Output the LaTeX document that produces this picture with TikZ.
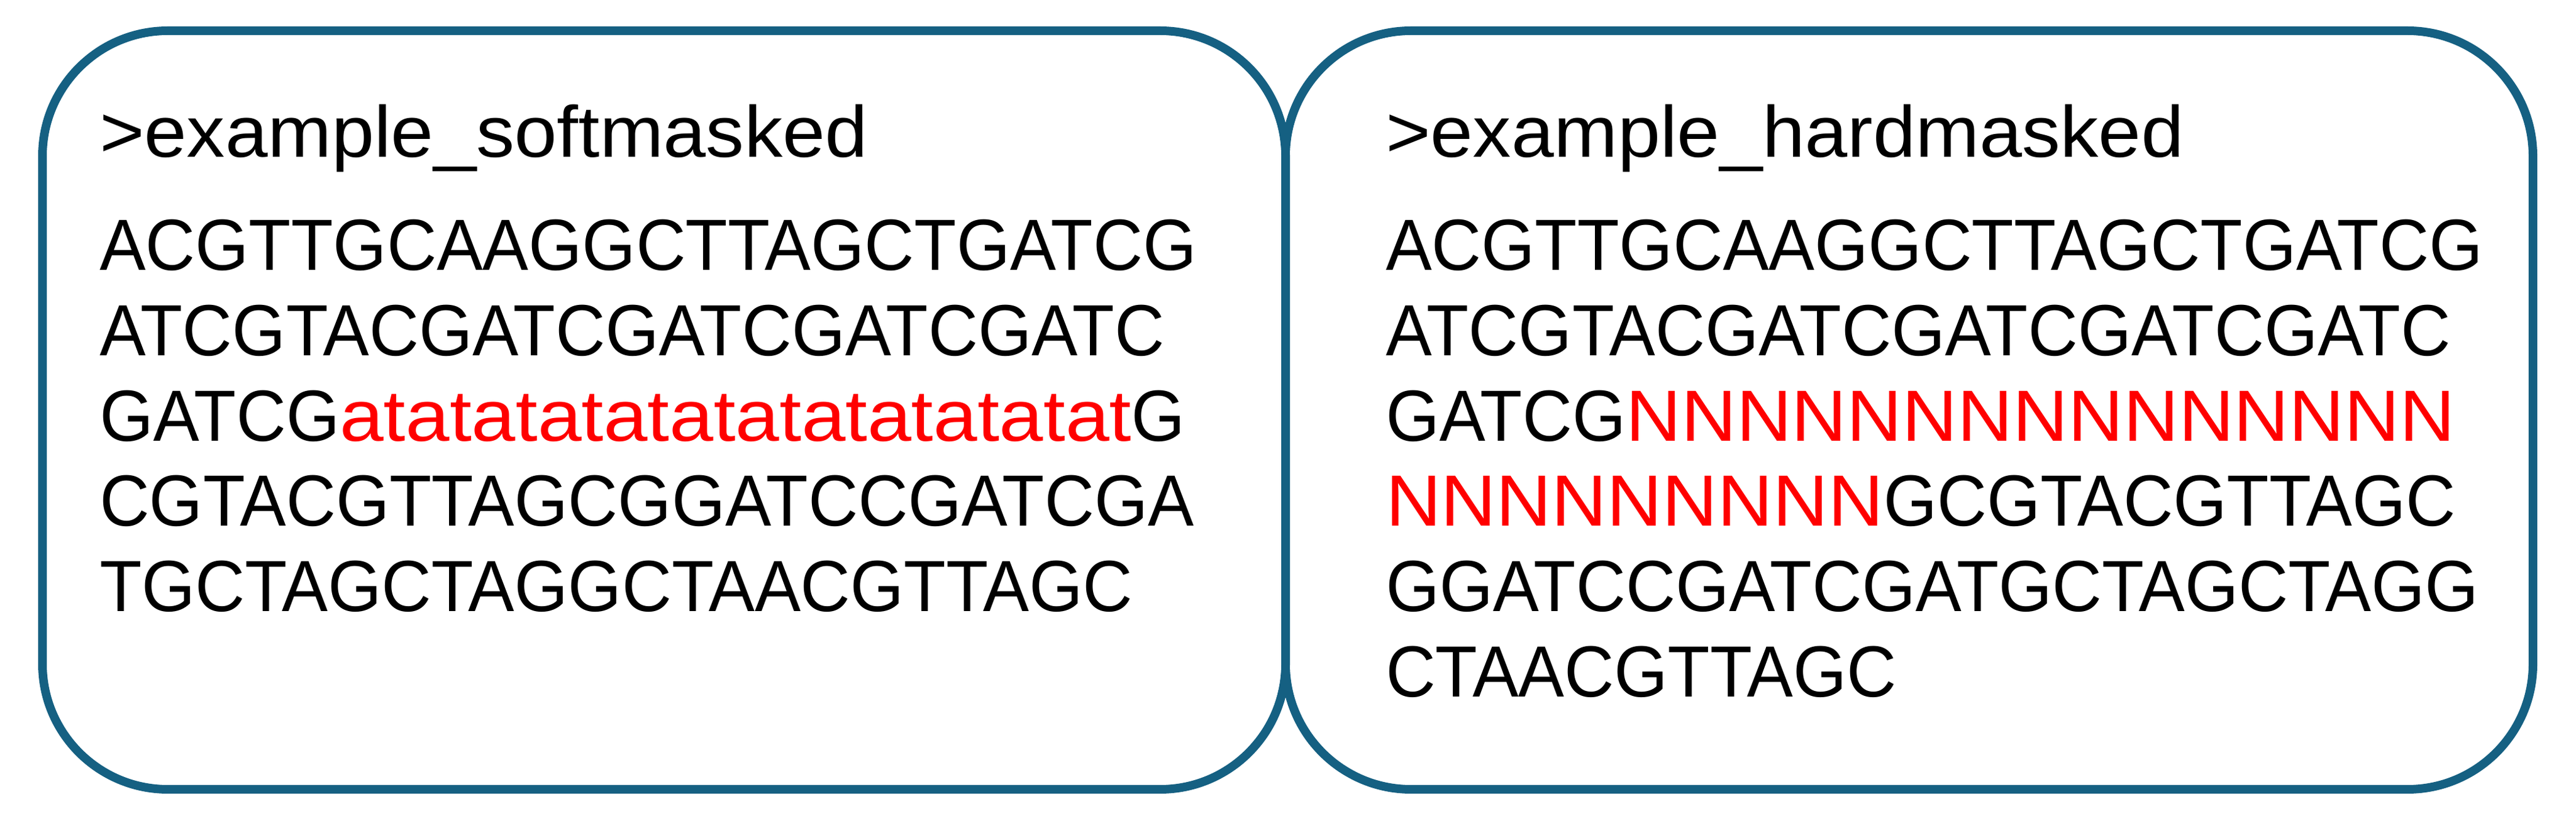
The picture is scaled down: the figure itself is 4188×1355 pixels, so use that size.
\documentclass[tikz,border=0pt]{standalone}
\usepackage{fontspec}
\setmainfont{Liberation Sans}
\newfontfamily\seqf[FakeStretch=0.95]{Liberation Sans}
\newfontfamily\hdrf[FakeStretch=1.055]{Liberation Sans}
\newfontfamily\atf[FakeStretch=1.09]{Liberation Sans}
\newfontfamily\nf[FakeStretch=1.055]{Liberation Sans}
\definecolor{boxblue}{HTML}{156082}
\definecolor{maskred}{HTML}{FF0000}
\newcommand{\sq}[1]{{\seqf #1}}
\newcommand{\sm}[1]{{\atf\color{maskred}#1}}
\newcommand{\hm}[1]{{\nf\color{maskred}#1}}
\tikzset{
  panel/.style={draw=boxblue, line width=3.5pt, rounded corners=51pt},
  txt/.style={anchor=base west, inner sep=0pt, outer sep=0pt, font=\fontsize{29.5pt}{34.7pt}\selectfont},
}
\begin{document}
\begin{tikzpicture}[x=0.25pt, y=-0.25pt]
\useasboundingbox (0,0) rectangle (4188,1355);
% panels
\draw[panel] (69,50) rectangle (2090,1284);
\draw[panel] (2090,50) rectangle (4118,1284);
% left panel
\node[txt] (lh) at (162,256) {\hdrf >example\_softmasked};
\node[txt] (l1) at (162,440) {\sq{ACGTTGCAAGGCTTAGCTGATCG}};
\node[txt] (l2) at (162,579) {\sq{ATCGTACGATCGATCGATCGATC}};
\node[txt] (l3) at (162,718) {\sq{GATCG}\sm{atatatatatatatatatatatat}\sq{G}};
\node[txt] (l4) at (162,856) {\sq{CGTACGTTAGCGGATCCGATCGA}};
\node[txt] (l5) at (162,995) {\sq{TGCTAGCTAGGCTAACGTTAGC}};
% right panel
\node[txt] (rh) at (2253,256) {\hdrf >example\_hardmasked};
\node[txt] (r1) at (2253,440) {\sq{ACGTTGCAAGGCTTAGCTGATCG}};
\node[txt] (r2) at (2253,579) {\sq{ATCGTACGATCGATCGATCGATC}};
\node[txt] (r3) at (2253,718) {\sq{GATCG}\hm{NNNNNNNNNNNNNNN}};
\node[txt] (r4) at (2253,856) {\hm{NNNNNNNNN}\sq{GCGTACGTTAGC}};
\node[txt] (r5) at (2253,995) {\sq{GGATCCGATCGATGCTAGCTAGG}};
\node[txt] (r6) at (2253,1134) {\sq{CTAACGTTAGC}};
\end{tikzpicture}
\end{document}
